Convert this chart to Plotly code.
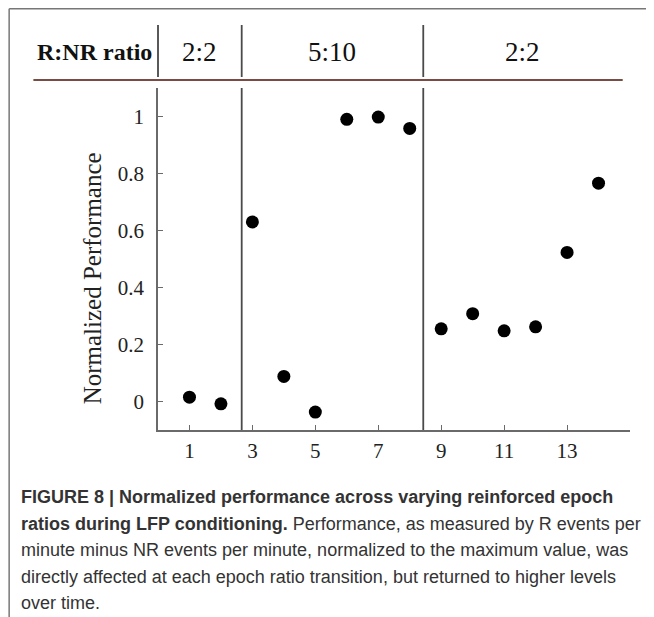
import plotly.graph_objects as go

# ---- data ----
epochs = list(range(1, 15))
performance = [0.015, -0.008, 0.63, 0.088, -0.037, 0.99, 0.998, 0.958,
               0.255, 0.308, 0.248, 0.262, 0.523, 0.766]
ratio_labels = ["2:2", "5:10", "2:2"]
transitions = [2.66, 8.43]
x_tick_vals = [1, 3, 5, 7, 9, 11, 13]
y_tick_vals = [0, 0.2, 0.4, 0.6, 0.8, 1]
y_tick_text = ["0", "0.2", "0.4", "0.6", "0.8", "1"]
caption_lines = [
    "<b>FIGURE 8 | Normalized performance across varying reinforced epoch</b>",
    "<b>ratios during LFP conditioning.</b> Performance, as measured by R events per",
    "minute minus NR events per minute, normalized to the maximum value, was",
    "directly affected at each epoch ratio transition, but returned to higher levels",
    "over time.",
]

# page body has an 8px margin; work in page pixels and convert
OFF = 8
PAGE_W, PAGE_H = 654, 617
W, H = PAGE_W - OFF, PAGE_H - OFF
L, R, T, B = 157.7, 630.0, 88.0, 430.0   # plot area in page pixels
XR = [0, 15]
YR = [-0.1, 1.1]


def px(xp):
    return (xp - L) / (R - L)


def py(yp):
    return (B - yp) / (B - T)


serif = "Liberation Serif, Times New Roman, serif"
sans = "Liberation Sans, Arial, Helvetica, sans-serif"
axis_col = "#6a6a6a"
sep_col = "#4a4a4a"

fig = go.Figure()
fig.add_trace(go.Scatter(
    x=epochs, y=performance, mode="markers",
    marker=dict(color="black", size=13), showlegend=False,
))

shapes = []
for t in transitions:
    shapes.append(dict(type="line", xref="x", yref="paper", x0=t, x1=t,
                       y0=0, y1=1, line=dict(color=sep_col, width=1.8)))
    shapes.append(dict(type="line", xref="x", yref="paper", x0=t, x1=t,
                       y0=py(25), y1=py(77), line=dict(color=sep_col, width=1.8)))
shapes.append(dict(type="line", xref="paper", yref="paper", x0=0, x1=0,
                   y0=py(25), y1=py(77), line=dict(color="#222", width=1.5)))
header_end_px = 622.7
shapes.append(dict(type="line", xref="paper", yref="paper", x0=px(33), x1=px(header_end_px),
                   y0=py(80), y1=py(80), line=dict(color="#7a4a44", width=2)))
# frame (top and left)
shapes.append(dict(type="line", xref="paper", yref="paper", x0=px(OFF + 0.75), x1=px(PAGE_W + 10),
                   y0=py(OFF + 0.75), y1=py(OFF + 0.75), line=dict(color="#777", width=1.5)))
shapes.append(dict(type="line", xref="paper", yref="paper", x0=px(OFF + 0.75), x1=px(OFF + 0.75),
                   y0=py(OFF + 0.75), y1=py(PAGE_H + 10), line=dict(color="#777", width=1.5)))

annotations = []
annotations.append(dict(text="<b>R:NR ratio</b>", xref="paper", yref="paper",
                        x=px(154), y=py(52), xanchor="right", yanchor="middle",
                        showarrow=False, font=dict(family=serif, size=24, color="#111")))
header_end = XR[0] + (header_end_px - L) / (R - L) * (XR[1] - XR[0])
bounds = [XR[0]] + transitions + [header_end]
for i, lab in enumerate(ratio_labels):
    cx = (bounds[i] + bounds[i + 1]) / 2
    annotations.append(dict(text=lab, xref="x", yref="paper", x=cx, y=py(52),
                            xanchor="center", yanchor="middle", showarrow=False,
                            font=dict(family=serif, size=27, color="#111")))
annotations.append(dict(text="Normalized Performance", xref="paper", yref="paper",
                        x=px(92), y=py(278), xanchor="center", yanchor="middle",
                        textangle=-90, showarrow=False,
                        font=dict(family=serif, size=25, color="#222")))
line_y = [497, 523.5, 550, 576.5, 603]
for i, (ln, yy) in enumerate(zip(caption_lines, line_y)):
    annotations.append(dict(text=ln, xref="paper", yref="paper", x=px(19), y=py(yy),
                            xanchor="left", yanchor="middle", showarrow=False,
                            font=dict(family=sans, size=18, color="#333")))

fig.update_layout(
    width=W, height=H,
    margin=dict(l=L - OFF, r=PAGE_W - R, t=T - OFF, b=PAGE_H - B, pad=0),
    paper_bgcolor="white", plot_bgcolor="white",
    shapes=shapes, annotations=annotations,
    xaxis=dict(range=XR, tickvals=x_tick_vals, ticks="inside", ticklen=5,
               tickcolor=axis_col, showline=True, linecolor=axis_col, linewidth=1.5,
               showgrid=False, zeroline=False, ticklabelstandoff=1,
               tickfont=dict(family=serif, size=21, color="#222")),
    yaxis=dict(range=YR, tickvals=y_tick_vals, ticktext=y_tick_text, ticks="inside",
               ticklen=5, tickcolor=axis_col, showline=True, linecolor=axis_col,
               linewidth=1.5, showgrid=False, zeroline=False, ticklabelstandoff=8,
               tickfont=dict(family=serif, size=21, color="#222")),
)

fig.write_html("out.html")
